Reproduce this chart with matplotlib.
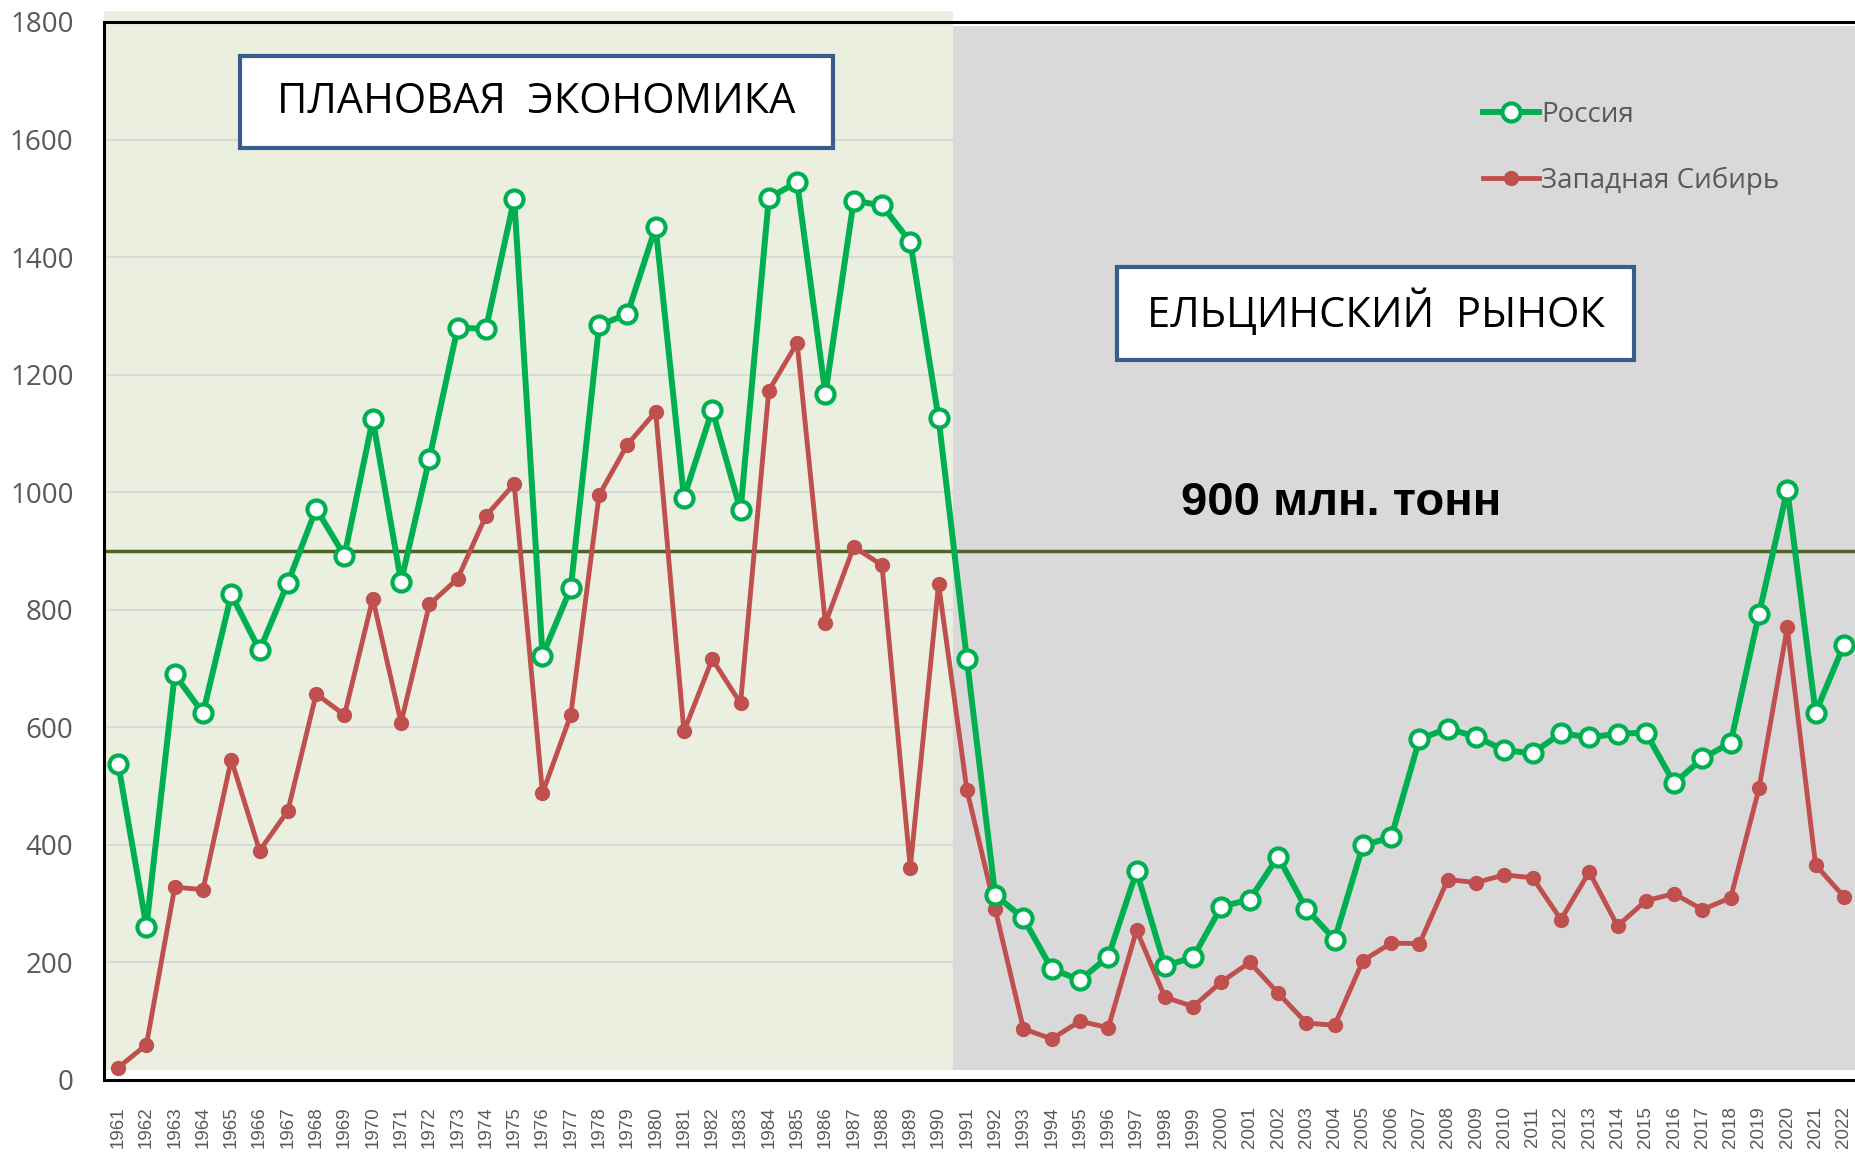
import matplotlib
matplotlib.use("Agg")
import matplotlib.pyplot as plt
from matplotlib.patches import Rectangle

# Years and coal/grain output series
years = list(range(1961, 2023))

russia = [538, 261, 690, 624, 826, 731, 846, 972, 892, 1124,
          848, 1057, 1280, 1278, 1499, 722, 837, 1284, 1303, 1451,
          991, 1140, 969, 1501, 1527, 1167, 1496, 1488, 1426, 1126,
          716, 315, 275, 189, 170, 210, 355, 194, 209, 295,
          307, 380, 291, 239, 399, 413, 580, 598, 584, 561,
          556, 590, 583, 589, 591, 505, 547, 574, 793, 1004,
          625, 740]

west_siberia = [21, 60, 328, 324, 545, 390, 458, 657, 621, 819,
                608, 809, 853, 960, 1014, 488, 621, 995, 1081, 1137,
                593, 716, 641, 1173, 1254, 777, 907, 876, 361, 844,
                494, 291, 87, 70, 100, 89, 255, 141, 125, 167,
                200, 148, 97, 93, 203, 233, 232, 341, 336, 349,
                344, 273, 354, 262, 305, 317, 290, 310, 496, 770,
                366, 312]

series_names = ["Россия", "Западная Сибирь"]
period_labels = ["ПЛАНОВАЯ  ЭКОНОМИКА", "ЕЛЬЦИНСКИЙ  РЫНОК"]
threshold = 900
threshold_label = "900 млн. тонн"
plan_end = 1990.5  # border between the two periods

GREEN = "#00B050"
RED = "#C0504D"
GRAY_TXT = "#595959"

plt.rcParams["font.family"] = ["Open Sans", "DejaVu Sans"]

fig = plt.figure(figsize=(18.55, 11.52), dpi=100)
ax = fig.add_axes([104 / 1855, 72 / 1152, 1754 / 1855, 1058 / 1152])

x0, x1 = years[0] - 0.5, years[-1] + 0.5
ax.set_xlim(x0, x1)
ax.set_ylim(0, 1800)

# background shading for the two periods
ax.add_patch(Rectangle((x0, 17), plan_end - x0, 1802, facecolor="#EBEFDF",
                       edgecolor="none", zorder=0, clip_on=False))
ax.add_patch(Rectangle((plan_end, 17), x1 + 1 - plan_end, 1776, facecolor="#D9D9D9",
                       edgecolor="none", zorder=0, clip_on=False))

ax.set_yticks(range(0, 1801, 200))
ax.grid(axis="y", color="#D9D9D9", linewidth=1.5, zorder=1)
ax.set_axisbelow(True)

ax.axhline(threshold, color="#4F6228", linewidth=2.5, zorder=2)

ax.plot(years, russia, color=GREEN, linewidth=4.3, marker="o", markersize=13,
        markerfacecolor="white", markeredgecolor=GREEN, markeredgewidth=3,
        label=series_names[0], zorder=4)
ax.plot(years, west_siberia, color=RED, linewidth=3.5, marker="o", markersize=10,
        markerfacecolor=RED, markeredgecolor=RED,
        label=series_names[1], zorder=3)

# axes styling
for side in ["left", "bottom", "top"]:
    ax.spines[side].set_color("black")
    ax.spines[side].set_linewidth(2.2)
ax.spines["right"].set_visible(False)
ax.tick_params(axis="both", length=0)
ax.tick_params(axis="y", pad=22, labelsize=20, labelcolor=GRAY_TXT)
ax.set_xticks(years)
ax.set_xticklabels([str(y) for y in years], rotation=90, fontsize=13.5,
                   color=GRAY_TXT, family="Liberation Sans")
ax.tick_params(axis="x", pad=19)

# legend
leg = ax.legend(loc="upper left", bbox_to_anchor=(1458 / 1855, 1 - 76 / 1152),
                bbox_transform=fig.transFigure, frameon=False, fontsize=20,
                handlelength=2.0, handletextpad=0.1, labelspacing=1.35,
                labelcolor=GRAY_TXT)

# period boxes
boxes = [(240, 56, 593, 92), (1117, 267, 517, 93)]
for (bx, by, bw, bh), label in zip(boxes, period_labels):
    fig.add_artist(Rectangle((bx / 1855, 1 - (by + bh) / 1152), bw / 1855, bh / 1152,
                             transform=fig.transFigure, facecolor="white",
                             edgecolor="#385D8A", linewidth=3, zorder=5))
    fig.text((bx + bw / 2) / 1855, 1 - (by + bh / 2) / 1152, label,
             ha="center", va="center", fontsize=30, color="black", zorder=6)

ax.text(1341 / 1855, 1 - 503 / 1152, threshold_label, transform=fig.transFigure,
        ha="center", va="center", fontsize=34, fontweight="bold",
        family="Liberation Sans", color="black", zorder=6)

fig.savefig("out.png", dpi=100)
